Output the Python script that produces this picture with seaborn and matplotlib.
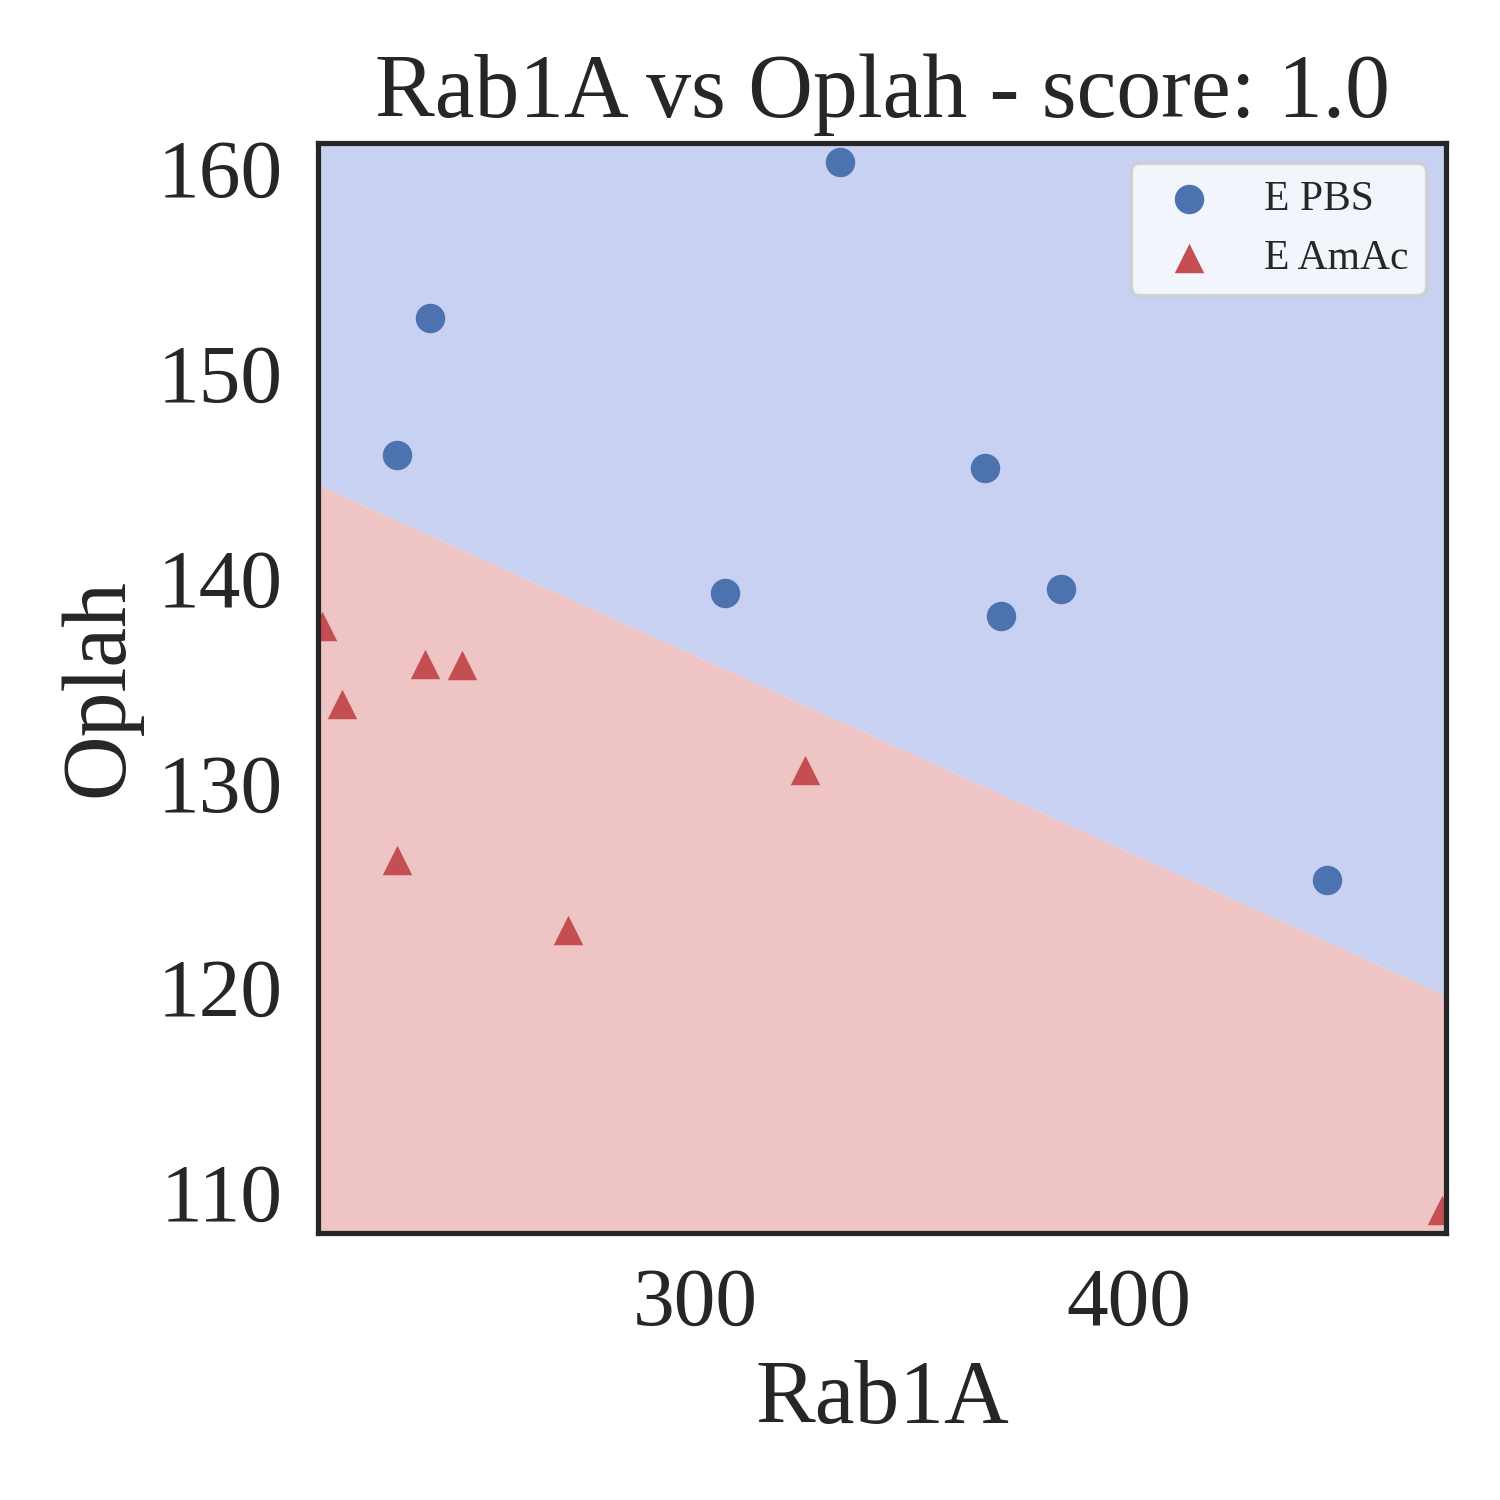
import matplotlib
matplotlib.use("Agg")
import matplotlib.pyplot as plt
import seaborn as sns

# Points par groupe
pbs_x = [333.5, 239.0, 231.2, 366.9, 306.8, 370.6, 384.3, 445.7]
pbs_y = [160.3, 152.7, 146.0, 145.35, 139.25, 138.12, 139.44, 125.24]
amac_x = [213.9, 218.6, 237.8, 246.3, 231.3, 270.7, 325.4, 472.3]
amac_y = [137.67, 133.84, 135.77, 135.74, 126.24, 122.82, 130.64, 109.12]

# Frontiere de decision (lineaire)
boundary_x = [212.98, 473.24]
boundary_y = [144.56, 119.58]

x_lim = (212.98, 473.24)
y_lim = (108.02, 161.27)

sns.set_theme(style="white", context="paper")
plt.rcParams['font.family'] = ['Liberation Serif', 'DejaVu Serif']
plt.rcParams['axes.linewidth'] = 1.25

fig, ax = plt.subplots(figsize=(5, 5), dpi=300)
fig.subplots_adjust(left=0.2117, right=0.9643, bottom=0.1783, top=0.905)

# Zones de classification
ax.fill_between(boundary_x, boundary_y, y_lim[1], color="#c8d1f1", linewidth=0)
ax.fill_between(boundary_x, y_lim[0], boundary_y, color="#eec4c4", linewidth=0)

sns.scatterplot(x=pbs_x, y=pbs_y, color="#4c72b0", marker="o", s=50,
                linewidth=0, label="E PBS", ax=ax)
sns.scatterplot(x=amac_x, y=amac_y, color="#c44e52", marker="^", s=50,
                linewidth=0, label="E AmAc", ax=ax, clip_on=True)

ax.set_xlim(*x_lim)
ax.set_ylim(*y_lim)
ax.set_xticks([300, 400])
ax.set_yticks([110, 120, 130, 140, 150, 160])
ax.tick_params(labelsize=20)
ax.set_xlabel("Rab1A", fontsize=21.5)
ax.set_ylabel("Oplah", fontsize=21.5)
ax.set_title("Rab1A vs Oplah - score: 1.0", fontsize=21.5)
for s in ax.spines.values():
    s.set_color("#262626")
    s.set_linewidth(1.25)

ax.legend(loc="upper right", fontsize=10, frameon=True)

plt.savefig("out.png", dpi=300)
plt.close()
